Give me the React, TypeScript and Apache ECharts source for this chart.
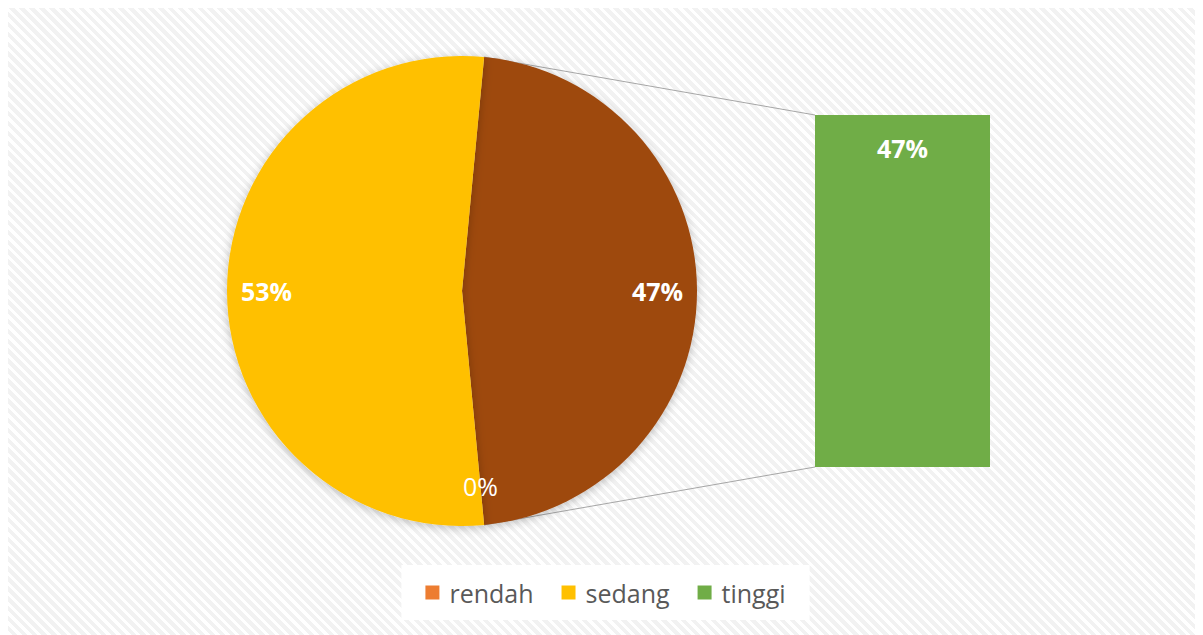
import React, { useEffect, useRef } from 'react';
import * as echarts from 'echarts';

const categories = ['rendah', 'sedang', 'tinggi'];
const values = [0, 53, 47];
const colors = ['#ED7D31', '#FFC000', '#70AD47'];
const barCategories = ['tinggi'];
const otherName = 'Lainnya';
const otherColor = '#9E480E';

export default function App() {
  const ref = useRef<HTMLDivElement>(null);
  useEffect(() => {
    const chart = echarts.init(ref.current!, null, { renderer: 'svg' });
    const cx = 454;
    const cy = 283;
    const R = 235;
    const total = values.reduce((a, b) => a + b, 0);
    const barVals = categories.map((c, i) => (barCategories.includes(c) ? values[i] : 0));
    const otherVal = barVals.reduce((a, b) => a + b, 0);
    const sweep = (otherVal / total) * 360;
    const startAngle = sweep / 2;
    const rad = (startAngle * Math.PI) / 180;
    const topPt = [cx + R * Math.cos(rad), cy - R * Math.sin(rad)];
    const botPt = [cx + R * Math.cos(rad), cy + R * Math.sin(rad)];
    const gridLeft = 807;
    const gridTop = 107;
    const gridW = 175;
    const gridH = 352;

    const pieData = [
      { name: otherName, value: otherVal, itemStyle: { color: otherColor } },
      ...categories
        .map((c, i) => ({ c, i }))
        .filter(({ c }) => !barCategories.includes(c))
        .map(({ c, i }) => ({ name: c, value: values[i], itemStyle: { color: colors[i] } })),
    ];

    const labelData = pieData.map((d) => ({
      name: d.name,
      value: d.value,
      itemStyle: { color: 'rgba(0,0,0,0)' },
      label: { fontWeight: d.value === 0 ? 'normal' : 'bold' },
    }));

    const font = '"Open Sans", "Noto Sans", sans-serif';

    const option: any = {
      animation: false,
      legend: {
        data: categories,
        bottom: 15,
        left: 'center',
        selectedMode: false,
        icon: 'rect',
        itemWidth: 14,
        itemHeight: 14,
        itemGap: 28,
        padding: [15, 24],
        backgroundColor: '#ffffff',
        textStyle: { fontFamily: font, fontSize: 25, color: '#595959', padding: [0, 0, 0, 5] },
      },
      grid: { left: gridLeft, top: gridTop, width: gridW, height: gridH },
      xAxis: { type: 'category', data: ['tinggi'], show: false },
      yAxis: { type: 'value', min: 0, max: otherVal, show: false, splitLine: { show: false } },
      graphic: [
        {
          type: 'line',
          z: 1,
          shape: { x1: topPt[0], y1: topPt[1], x2: gridLeft, y2: gridTop },
          style: { stroke: '#a6a6a6', lineWidth: 1 },
        },
        {
          type: 'line',
          z: 1,
          shape: { x1: botPt[0], y1: botPt[1], x2: gridLeft, y2: gridTop + gridH },
          style: { stroke: '#a6a6a6', lineWidth: 1 },
        },
      ],
      series: [
        {
          type: 'pie',
          name: 'main',
          center: [cx, cy],
          radius: R,
          startAngle: startAngle,
          clockwise: true,
          silent: true,
          label: { show: false },
          labelLine: { show: false },
          itemStyle: { shadowBlur: 10, shadowColor: 'rgba(0,0,0,0.25)', shadowOffsetY: 2 },
          data: pieData,
        },
        {
          type: 'pie',
          name: 'labels',
          center: [cx, cy],
          radius: [150, R],
          startAngle: startAngle,
          clockwise: true,
          silent: true,
          z: 3,
          label: {
            show: true,
            position: 'inner',
            formatter: '{c}%',
            color: '#ffffff',
            fontFamily: font,
            fontSize: 25,
          },
          labelLine: { show: false },
          data: labelData,
        },
        {
          type: 'bar',
          name: 'tinggi',
          stack: 'b',
          barWidth: '100%',
          silent: true,
          itemStyle: { color: colors[2] },
          label: {
            show: true,
            position: 'insideTop',
            distance: 20,
            formatter: '{c}%',
            color: '#ffffff',
            fontFamily: font,
            fontWeight: 'bold',
            fontSize: 25,
          },
          data: [otherVal],
        },
      ],
    };
    chart.setOption(option);
    return () => chart.dispose();
  }, []);
  return (
    <div
      ref={ref}
      style={{
        width: 1195,
        height: 627,
        background:
          'repeating-linear-gradient(45deg, #ffffff 0px, #ffffff 3px, #f2f2f2 3px, #f2f2f2 7px)',
      }}
    />
  );
}
